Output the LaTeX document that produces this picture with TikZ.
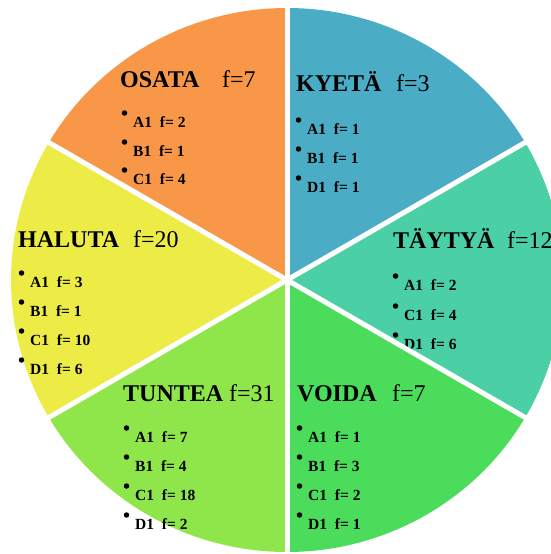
\documentclass[tikz,border=0pt]{standalone}
\usepackage{fontspec}
\setmainfont{Liberation Serif}
\definecolor{cOsata}{RGB}{247,151,71}
\definecolor{cKyeta}{RGB}{75,172,198}
\definecolor{cTaytya}{RGB}{74,208,164}
\definecolor{cVoida}{RGB}{74,220,90}
\definecolor{cTuntea}{RGB}{143,230,74}
\definecolor{cHaluta}{RGB}{237,236,70}
\begin{document}
\begin{tikzpicture}[x=1pt,y=-1pt,
  title/.style={anchor=base west,inner sep=0pt,font=\fontsize{24}{28}\selectfont\bfseries},
  freq/.style={anchor=base west,inner sep=0pt,font=\fontsize{24}{28}\selectfont},
  item/.style={anchor=base west,inner sep=0pt,font=\fontsize{15.5}{18}\selectfont\bfseries},
  dot/.style={circle,fill=black,inner sep=0pt,minimum size=5.5pt},
  spoke/.style={white,line width=5pt}]
\useasboundingbox (0,0) rectangle (550,554);
\coordinate (c) at (287,280);
% sectors
\foreach \a/\col in {-30/cKyeta,30/cTaytya,90/cVoida,150/cTuntea,210/cHaluta,270/cOsata}
  \fill[\col] (c) -- ++(\a:276 and 272) arc[start angle=\a,end angle=\a-60,x radius=276,y radius=272] -- cycle;
% texts: name/x/y/title/freq
\foreach \n/\tx/\ty/\fx/\t/\f in {
  osata/120/87/222/OSATA/f=7,
  kyeta/296/91/396/KYETÄ/f=3,
  taytya/393/248/507/TÄYTYÄ/f=12,
  haluta/18/247/133/HALUTA/f=20,
  tuntea/123/401/229/TUNTEA/f=31,
  voida/297/401/392/VOIDA/f=7}{
  \node[title] (\n-t) at (\tx,\ty) {\t};
  \node[freq] (\n-f) at (\fx,\ty) {\f};
}
% items: name/x/y/text
\foreach \n/\ix/\iy/\it in {
  osata-a/133/127/A1, osata-b/133/156/B1, osata-c/133/184/C1,
  kyeta-a/307/134/A1, kyeta-b/307/163/B1, kyeta-d/307/192/D1,
  taytya-a/404/290/A1, taytya-c/404/320/C1, taytya-d/404/349/D1,
  haluta-a/30/287/A1, haluta-b/30/316/B1, haluta-c/30/345/C1, haluta-d/30/374/D1,
  tuntea-a/135/442/A1, tuntea-b/135/471/B1, tuntea-c/135/500/C1, tuntea-d/135/529/D1,
  voida-a/308/442/A1, voida-b/308/471/B1, voida-c/308/500/C1, voida-d/308/529/D1}{
  \node[dot] (\n-dot) at (\ix-8.5,\iy-14) {};
}
\node[item] (osata-a) at (133,127) {A1\hspace{0.5em}f= 2};
\node[item] (osata-b) at (133,156) {B1\hspace{0.5em}f= 1};
\node[item] (osata-c) at (133,184) {C1\hspace{0.5em}f= 4};
\node[item] (kyeta-a) at (307,134) {A1\hspace{0.5em}f= 1};
\node[item] (kyeta-b) at (307,163) {B1\hspace{0.5em}f= 1};
\node[item] (kyeta-d) at (307,192) {D1\hspace{0.5em}f= 1};
\node[item] (taytya-a) at (404,290) {A1\hspace{0.5em}f= 2};
\node[item] (taytya-c) at (404,320) {C1\hspace{0.5em}f= 4};
\node[item] (taytya-d) at (404,349) {D1\hspace{0.5em}f= 6};
\node[item] (haluta-a) at (30,287) {A1\hspace{0.5em}f= 3};
\node[item] (haluta-b) at (30,316) {B1\hspace{0.5em}f= 1};
\node[item] (haluta-c) at (30,345) {C1\hspace{0.5em}f= 10};
\node[item] (haluta-d) at (30,374) {D1\hspace{0.5em}f= 6};
\node[item] (tuntea-a) at (135,442) {A1\hspace{0.5em}f= 7};
\node[item] (tuntea-b) at (135,471) {B1\hspace{0.5em}f= 4};
\node[item] (tuntea-c) at (135,500) {C1\hspace{0.5em}f= 18};
\node[item] (tuntea-d) at (135,529) {D1\hspace{0.5em}f= 2};
\node[item] (voida-a) at (308,442) {A1\hspace{0.5em}f= 1};
\node[item] (voida-b) at (308,471) {B1\hspace{0.5em}f= 3};
\node[item] (voida-c) at (308,500) {C1\hspace{0.5em}f= 2};
\node[item] (voida-d) at (308,529) {D1\hspace{0.5em}f= 1};
% white separators
\foreach \a in {30,90,150,210,270,330}
  \draw[spoke] (c) -- ++(\a:285 and 285);
\end{tikzpicture}
\end{document}
